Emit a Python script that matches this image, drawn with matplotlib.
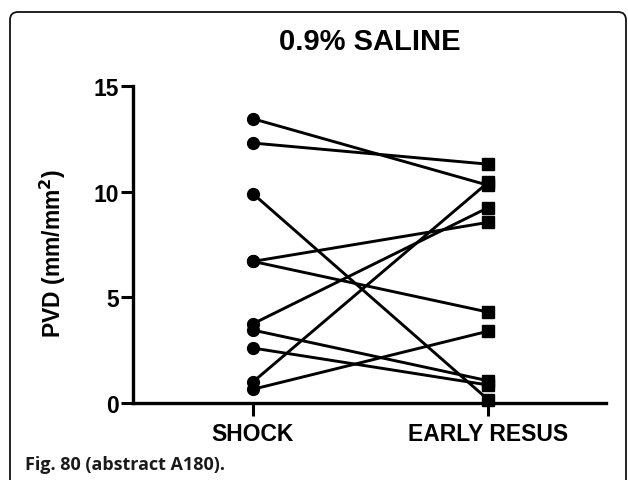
import matplotlib
matplotlib.use('Agg')
import matplotlib.pyplot as plt
from matplotlib.patches import FancyBboxPatch

# PVD values (one line per subject)
categories = ['SHOCK', 'EARLY RESUS']
shock = [13.45, 12.3, 9.9, 6.7, 6.7, 3.75, 3.45, 2.6, 1.0, 0.65]
early = [10.3, 11.3, 0.15, 8.55, 4.3, 9.25, 1.05, 0.85, 10.45, 3.4]
yticks = [0, 5, 10, 15]

plt.rcParams['font.family'] = ['Liberation Sans', 'DejaVu Sans']

fig = plt.figure(figsize=(6.28, 4.81), dpi=100)
ax = fig.add_axes([133 / 628, 1 - 404 / 481, (606 - 133) / 628, (404 - 87) / 481])

# paired lines, then markers on top
for a, b in zip(shock, early):
    ax.plot([0, 1], [a, b], color='black', lw=2.1, zorder=2)
ax.plot([0] * len(shock), shock, 'o', color='black', ms=8.5, zorder=3, clip_on=False)
ax.plot([1] * len(early), early, 's', color='black', ms=8.5, zorder=3, clip_on=False)

ax.set_xlim(-0.51, 1.5)
ax.set_ylim(0, 15)
ax.set_xticks([0, 1])
ax.set_xticklabels(categories, fontsize=16.5, fontweight='bold')
ax.set_yticks(yticks)
ax.set_yticklabels([str(t) for t in yticks], fontsize=16.5, fontweight='bold')
ax.tick_params(axis='x', length=9, width=2.2, pad=5)
ax.tick_params(axis='y', length=9, width=2.2, pad=1)
for s in ['top', 'right']:
    ax.spines[s].set_visible(False)
for s in ['left', 'bottom']:
    ax.spines[s].set_linewidth(2.4)

fig.text(370 / 628, 1 - 42 / 481, '0.9% SALINE', ha='center', va='center',
         fontsize=21, fontweight='bold')
fig.text(53 / 628, 1 - 253 / 481, 'PVD (mm/mm$^\\mathbf{2}$)', ha='center', va='center',
         rotation=90, fontsize=16.5, fontweight='bold')
fig.text(25 / 628, 1 - 465 / 481, 'Fig. 80 (abstract A180).', ha='left', va='center',
         fontsize=13, fontweight='bold', family=['Open Sans', 'DejaVu Sans'], color='#1a1a1a')

# rounded frame around the figure, running off the right and bottom edges
frame = FancyBboxPatch((0.10, -0.5), 6.16, 4.81 - 0.13 + 0.5,
                       boxstyle='round,pad=0,rounding_size=0.08',
                       transform=fig.dpi_scale_trans, fill=False,
                       edgecolor='#111111', lw=1.3)
fig.patches.append(frame)

fig.savefig('out.png', dpi=100)
